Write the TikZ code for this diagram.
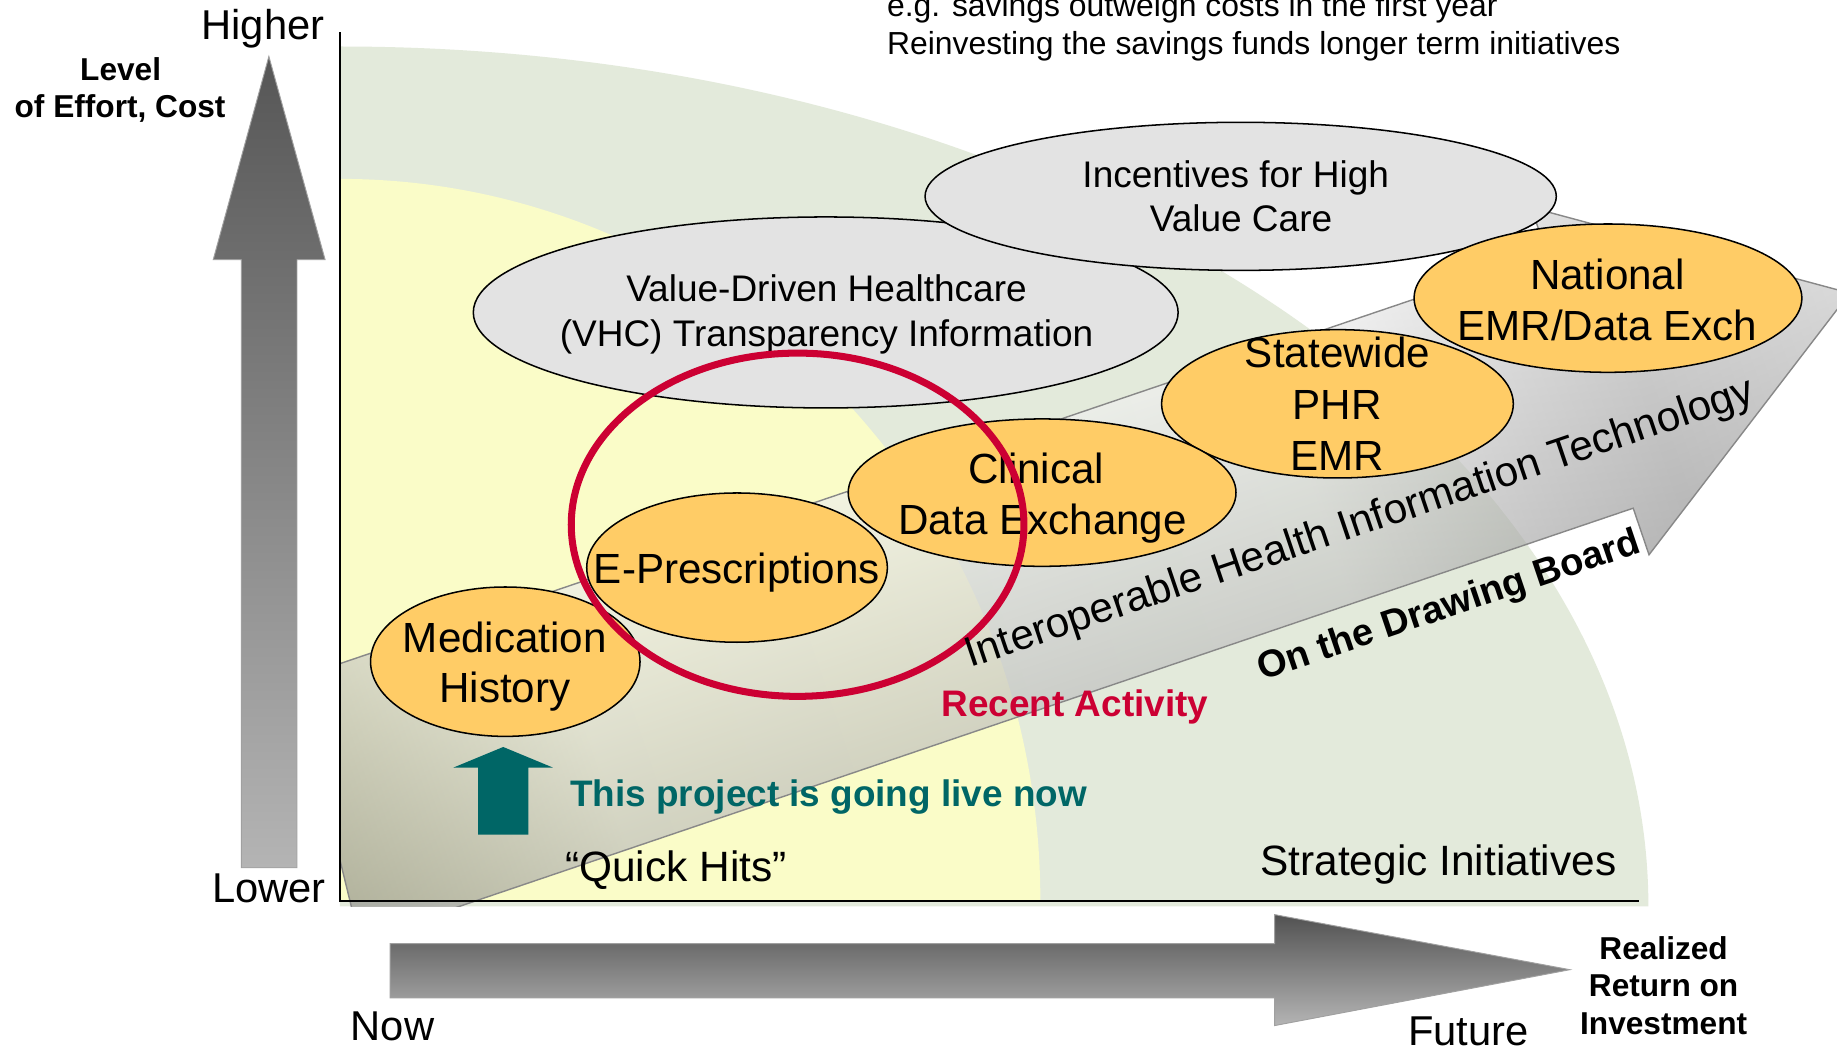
\documentclass[tikz,border=0pt]{standalone}
\usepackage{fontspec}
\setmainfont{Liberation Sans}
\usetikzlibrary{shapes.geometric}
\definecolor{greenbg}{HTML}{E3EADB}
\definecolor{yellowbg}{HTML}{FAFCC8}
\definecolor{orangefill}{HTML}{FFCC66}
\definecolor{grayfill}{HTML}{E3E3E3}
\definecolor{crimson}{HTML}{CC0033}
\definecolor{tealc}{HTML}{006666}
\definecolor{bandc0}{HTML}{8A8A80}
\definecolor{bandc1}{HTML}{EEEEEE}
\definecolor{bandc2}{HTML}{F6F6F6}
\definecolor{bandc3}{HTML}{C0C0C0}
\definecolor{bandc4}{HTML}{A8A8A8}
\definecolor{bandc5}{HTML}{D0D0D0}
\definecolor{bandlow}{HTML}{707070}
\definecolor{bandedge}{HTML}{888888}
\definecolor{arrdark}{HTML}{565656}
\definecolor{arrlight}{HTML}{B4B4B4}
\definecolor{arredge}{HTML}{A0A0A0}
\pgfdeclarehorizontalshading{bandA}{100bp}{color(0bp)=(bandc0); color(25bp)=(bandc0); color(33.8bp)=(bandc1); color(57.3bp)=(bandc2); color(64.5bp)=(bandc3); color(68.1bp)=(bandc4); color(75bp)=(bandc5); color(100bp)=(bandc5)}
\newcommand\myfs[1]{\fontsize{#1pt}{#1pt}\selectfont}
\tikzset{
  lbl/.style={inner sep=0pt, anchor=base},
  ellO/.style={ellipse, draw=black, line width=1.3pt, fill=orangefill, inner sep=0pt},
  ellG/.style={ellipse, draw=black, line width=1.3pt, fill=grayfill, inner sep=0pt},
  otext/.style={lbl, font={\myfs{36}}},
  gtext/.style={lbl, font={\myfs{31.6}}},
  axtext/.style={lbl, font={\myfs{35.6}}},
  boldsmall/.style={lbl, font={\myfs{27}\bfseries}},
  boldmid/.style={lbl, font={\myfs{31.5}\bfseries}},
  axisline/.style={draw=black, line width=1.8pt},
  bandline/.style={draw=bandedge, line width=1.2pt, line join=miter},
  bigarrow/.style={draw=arredge, line width=0.8pt, top color=arrdark, bottom color=arrlight}
}
\begin{document}
\begin{tikzpicture}[x=1pt,y=1pt]
\useasboundingbox (0,0) rectangle (1568,893.7);
\fill[white] (0,0) rectangle (1568,893.7);
% background zones
\fill[greenbg] (290,120) -- (1407,120) arc[start angle=0,end angle=90,x radius=1117,y radius=734] -- cycle;
\fill[yellowbg] (290,125) -- (888,125) arc[start angle=0,end angle=90,x radius=598,y radius=616] -- cycle;
% band arrow (Interoperable HIT)
\begin{scope}
\clip (290,120) rectangle (1568,893.7);
\begin{scope}[transform canvas={shift={(395,121)},rotate=18.74}]
\shade[shading=bandA, fill opacity=0.5] (-93,0) -- (1055,0) -- (1055,-42) -- (1289,114.5) -- (1055,271) -- (1055,229) -- (-73,229) -- cycle;
\shade[top color=white, bottom color=bandlow, fill opacity=0.3] (-93,0) -- (1055,0) -- (1055,-42) -- (1289,114.5) -- (1055,271) -- (1055,229) -- (-73,229) -- cycle;
\draw[bandline] (-93,0) -- (1055,0) -- (1055,-42) -- (1289,114.5) -- (1055,271) -- (1055,229) -- (-73,229) -- cycle;
\end{scope}
\end{scope}
% axes
\draw[axisline] (290,866) -- (290,124.5) -- (1399,124.5);
% gray ellipses
\node[ellG, minimum width=601.6pt, minimum height=163pt] (vhc) at (704.8,627) {};
\node[gtext] (vhc1) at (705.5,636.2) {Value-Driven Healthcare};
\node[gtext] (vhc2) at (705.5,597.8) {(VHC) Transparency Information};
\node[ellG, minimum width=538.8pt, minimum height=126.4pt] (inc) at (1059,726.1) {};
\node[gtext] (inc1) at (1054.8,733.8) {Incentives for High};
\node[gtext] (inc2) at (1059.3,695.9) {Value Care};
% orange ellipses
\node[ellO, minimum width=331pt, minimum height=126.6pt] (nat) at (1372.5,639.2) {};
\node[otext] (nat1) at (1372,646.2) {National};
\node[otext] (nat2) at (1372,602.9) {EMR/Data Exch};
\node[ellO, minimum width=300.2pt, minimum height=126.6pt] (swd) at (1141.6,549) {};
\node[otext] (swd1) at (1141.7,580.2) {Statewide};
\node[otext] (swd2) at (1141.5,535.5) {PHR};
\node[otext] (swd3) at (1141.3,492) {EMR};
\node[ellO, minimum width=331pt, minimum height=125.8pt] (cde) at (889.5,473.2) {};
\node[otext] (cde1) at (884.5,481.4) {Clinical};
\node[otext] (cde2) at (890,437.3) {Data Exchange};
\node[ellO, minimum width=256.6pt, minimum height=127.4pt] (epr) at (629.1,409.2) {};
\node[otext] (epr1) at (629,395.5) {E-Prescriptions};
\node[ellO, minimum width=230pt, minimum height=127.5pt] (med) at (431.3,328.9) {};
\node[otext] (med1) at (431,336.9) {Medication};
\node[otext] (med2) at (431,293.7) {History};
% red circle
\node[ellipse, draw=crimson, line width=6pt, inner sep=0pt, minimum width=386.4pt, minimum height=293pt] (recent) at (680.8,445.8) {};
% band labels
\node[inner sep=0pt, rotate=18.7, font={\myfs{36}}] (iht) at (1161,446) {Interoperable Health Information Technology};
\node[inner sep=0pt, rotate=18.7, font={\myfs{32.5}\bfseries}] (board) at (1237,375.5) {On the Drawing Board};
\node[boldmid, text=crimson] (recentlbl) at (917.5,282) {Recent Activity};
\node[boldmid, text=tealc, anchor=base west] (live) at (486.5,205.2) {This project is going live now};
\node[lbl, anchor=base west, font={\myfs{36.2}}] (quick) at (482.3,141.1) {“Quick Hits”};
\node[lbl, anchor=base west, font={\myfs{36.2}}] (strat) at (1075.6,146.8) {Strategic Initiatives};
% teal arrow
\fill[tealc] (408,181.3) -- (408,238.5) -- (387,238.5) -- (429.5,256.1) -- (472,238.5) -- (451,238.5) -- (451,181.3) -- cycle;
% axis arrows
\path[bigarrow] (206,153) -- (206,672) -- (182,672) -- (229.5,845.5) -- (277.5,672) -- (253.5,672) -- (253.5,153) -- cycle;
\path[bigarrow, top color=arrdark!95!black] (333,42) -- (1088,42) -- (1088,18.3) -- (1340,66) -- (1088,113) -- (1088,88.3) -- (333,88.3) -- cycle;
% axis texts
\node[axtext] (higher) at (224.5,859.6) {Higher};
\node[axtext] (lower) at (229.5,123) {Lower};
\node[axtext] (now) at (335,5.4) {Now};
\node[axtext] (future) at (1253.5,1) {Future};
\node[boldsmall] (lvl1) at (103,825) {Level};
\node[boldsmall] (lvl2) at (102.5,793) {of Effort, Cost};
\node[boldsmall] (roi1) at (1420,75) {Realized};
\node[boldsmall] (roi2) at (1420,43) {Return on};
\node[boldsmall] (roi3) at (1420,10.8) {Investment};
% top note
\node[lbl, anchor=base west, font={\myfs{27.2}}] (note1) at (757,880) {e.g. savings outweigh costs in the first year};
\node[lbl, anchor=base west, font={\myfs{27.2}}] (note2) at (757,847) {Reinvesting the savings funds longer term initiatives};
\end{tikzpicture}
\end{document}
